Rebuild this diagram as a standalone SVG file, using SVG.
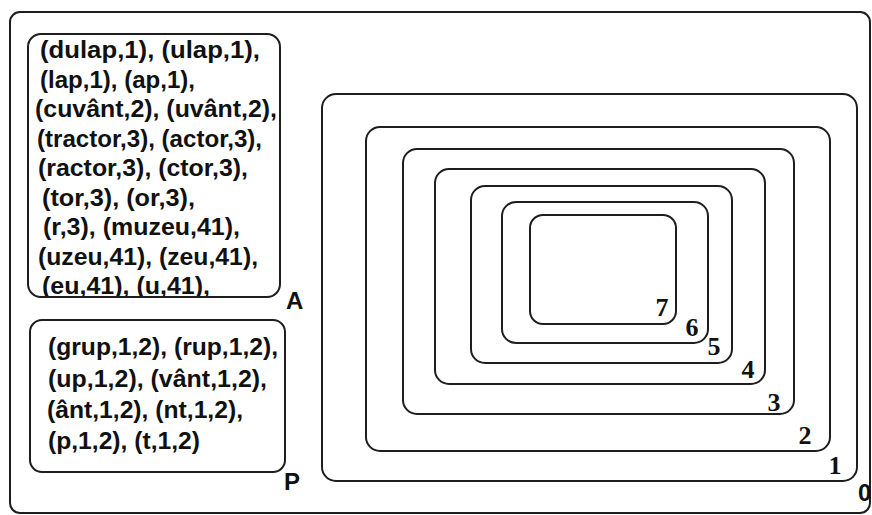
<svg xmlns="http://www.w3.org/2000/svg" width="872" height="515" viewBox="0 0 872 515">
<style>
.ln{fill:none;stroke:#1e1e1e;stroke-width:2}
.tx{font-family:"Liberation Sans",Arial,sans-serif;font-weight:bold;font-size:24px;fill:#111}
.lab{font-family:"Liberation Sans",Arial,sans-serif;font-weight:bold;font-size:24px;fill:#111}
.num{font-family:"Liberation Serif","Times New Roman",serif;font-weight:bold;font-size:26px;fill:#111;text-anchor:middle}
</style>
<defs>
<clipPath id="clipA"><rect x="28" y="34" width="252" height="262" rx="13"/></clipPath>
</defs>
<rect width="872" height="515" fill="#fff"/>
<g id="frame"><rect class="ln" x="10" y="12" width="860" height="501" rx="10"/></g>
<g id="boxA">
<rect class="ln" x="28" y="34" width="252" height="263" rx="13"/>
<g clip-path="url(#clipA)" class="tx">
<text x="40" y="58" textLength="220" lengthAdjust="spacingAndGlyphs">(dulap,1), (ulap,1),</text>
<text x="40" y="87.5" textLength="155" lengthAdjust="spacingAndGlyphs">(lap,1), (ap,1),</text>
<text x="35" y="117" textLength="242" lengthAdjust="spacingAndGlyphs">(cuvânt,2), (uvânt,2),</text>
<text x="37" y="146.5" textLength="225" lengthAdjust="spacingAndGlyphs">(tractor,3), (actor,3),</text>
<text x="38" y="176" textLength="210" lengthAdjust="spacingAndGlyphs">(ractor,3), (ctor,3),</text>
<text x="42" y="205.5" textLength="153" lengthAdjust="spacingAndGlyphs">(tor,3), (or,3),</text>
<text x="43" y="235" textLength="197" lengthAdjust="spacingAndGlyphs">(r,3), (muzeu,41),</text>
<text x="38" y="264.5" textLength="220" lengthAdjust="spacingAndGlyphs">(uzeu,41), (zeu,41),</text>
<text x="42" y="294" textLength="168" lengthAdjust="spacingAndGlyphs">(eu,41), (u,41),</text>
</g>
<text class="lab" x="286" y="309">A</text>
</g>
<g id="boxP">
<rect class="ln" x="30" y="320" width="255" height="152" rx="12"/>
<g class="tx">
<text x="48" y="355" textLength="230" lengthAdjust="spacingAndGlyphs">(grup,1,2), (rup,1,2),</text>
<text x="48" y="387" textLength="219" lengthAdjust="spacingAndGlyphs">(up,1,2), (vânt,1,2),</text>
<text x="47" y="418" textLength="196" lengthAdjust="spacingAndGlyphs">(ânt,1,2), (nt,1,2),</text>
<text x="48" y="449" textLength="152" lengthAdjust="spacingAndGlyphs">(p,1,2), (t,1,2)</text>
</g>
<text class="lab" x="284" y="490">P</text>
</g>
<g id="ring0"><rect class="ln" x="322" y="94" width="535" height="387" rx="14"/><text class="lab" x="858" y="501">0</text></g>
<g id="ring1"><rect class="ln" x="366" y="127" width="464" height="324" rx="14"/><text class="num" x="835" y="474">1</text></g>
<g id="ring2"><rect class="ln" x="403" y="149" width="391" height="265" rx="14"/><text class="num" x="805" y="444">2</text></g>
<g id="ring3"><rect class="ln" x="435" y="169" width="330" height="215" rx="14"/><text class="num" x="774" y="411">3</text></g>
<g id="ring4"><rect class="ln" x="471" y="186" width="261" height="177" rx="14"/><text class="num" x="748" y="378">4</text></g>
<g id="ring5"><rect class="ln" x="502" y="202" width="206" height="141" rx="14"/><text class="num" x="714" y="355">5</text></g>
<g id="ring6"><rect class="ln" x="530" y="215" width="146" height="109" rx="13"/><text class="num" x="692" y="336">6</text></g>
<g id="ring7"><text class="num" x="662" y="316">7</text></g>
<g id="connectors"/>
</svg>
